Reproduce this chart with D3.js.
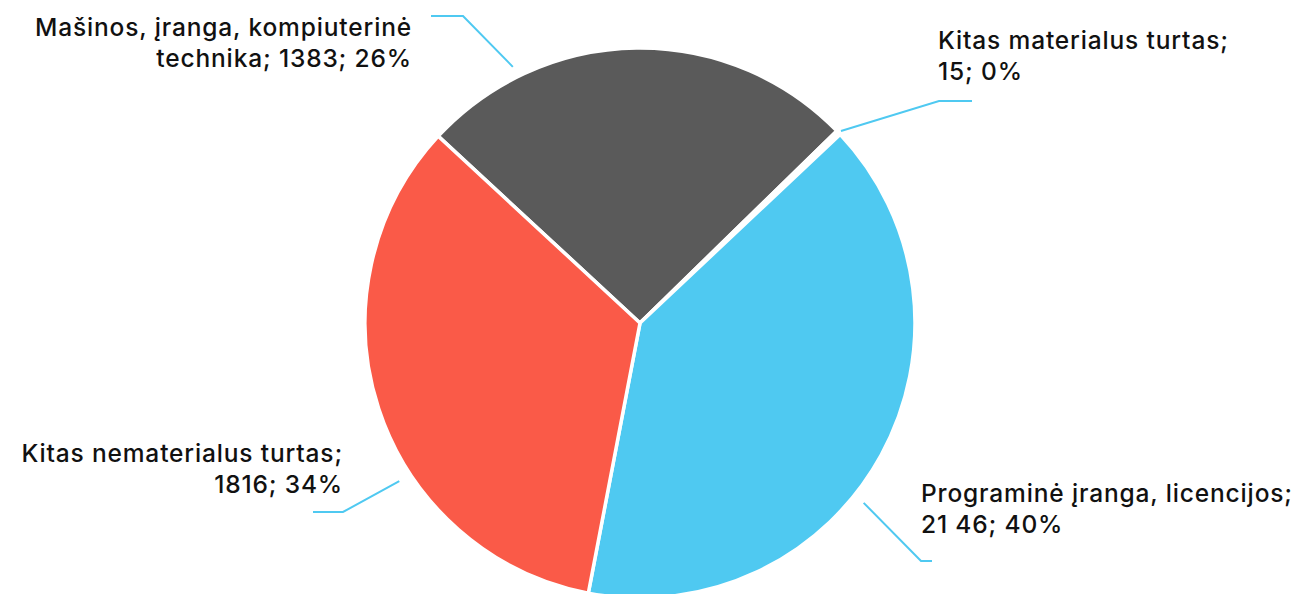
<!DOCTYPE html>
<html>
<head>
<meta charset="utf-8">
<script src="https://cdn.jsdelivr.net/npm/d3@7"></script>
<style>
  html, body { margin: 0; padding: 0; background: #ffffff; }
  svg { display: block; }
</style>
</head>
<body>
<svg id="chart" width="1299" height="594"></svg>
<script>
// ---- data ----
const categories = [
  "Mašinos, įranga, kompiuterinė technika",
  "Kitas materialus turtas",
  "Programinė įranga, licencijos",
  "Kitas nematerialus turtas"
];
const values = [1383, 15, 2146, 1816];
const valueLabels = ["1383", "15", "21 46", "1816"];
const percentLabels = ["26%", "0%", "40%", "34%"];
const colors = ["#5a5a5a", "#ffffff", "#4fc9f1", "#fa5a48"];

// label text lines (as displayed)
const labelLines = [
  ["Mašinos, įranga, kompiuterinė", "technika; 1383; 26%"],
  ["Kitas materialus turtas;", "15; 0%"],
  ["Programinė įranga, licencijos;", "21 46; 40%"],
  ["Kitas nematerialus turtas;", "1816; 34%"]
];

// ---- layout (positions, not data) ----
const W = 1299, H = 594;
const cx = 640, cy = 323, R = 275;
const startDeg = -47.2;
const labelLayout = [
  { x: 412, y: 36, anchor: "end",   lineAngle: -26.4, lineR: 286, elbow: [463, 16], end: [431, 16] },
  { x: 938, y: 49, anchor: "start", lineAngle: 46.3,  lineR: 278, elbow: [939, 101], end: [972, 101] },
  { x: 921, y: 502, anchor: "start", lineAngle: 128.8, lineR: 287, elbow: [921, 561], end: [932, 561] },
  { x: 343, y: 462, anchor: "end",  lineAngle: -123.3, lineR: 288, elbow: [343, 512], end: [313, 512] }
];
const lineGap = 31;

const svg = d3.select("#chart");
const rad = d => d * Math.PI / 180;

const pie = d3.pie().sort(null).value(d => d)
  .startAngle(rad(startDeg)).endAngle(rad(startDeg + 360));
const arcs = pie(values);
const arc = d3.arc().innerRadius(0).outerRadius(R);

const g = svg.append("g").attr("transform", `translate(${cx},${cy})`);
g.selectAll("path.slice").data(arcs).enter().append("path")
  .attr("class", "slice")
  .attr("d", arc)
  .attr("fill", (d, i) => colors[i])
  .attr("stroke", "#ffffff")
  .attr("stroke-width", 3.5)
  .attr("stroke-linejoin", "miter");

// leader lines
const lines = svg.append("g");
labelLayout.forEach((L, i) => {
  const a = rad(L.lineAngle);
  const p0 = [cx + L.lineR * Math.sin(a), cy - L.lineR * Math.cos(a)];
  lines.append("polyline")
    .attr("points", [p0, L.elbow, L.end].map(p => p.join(",")).join(" "))
    .attr("fill", "none")
    .attr("stroke", "#4fc9f1")
    .attr("stroke-width", 2);
});

// labels
const fontFamily = "Inter, 'Noto Sans', sans-serif";
const fontSize = 24.5;

const labels = svg.append("g");
labelLayout.forEach((L, i) => {
  const t = labels.append("text")
    .attr("x", L.x).attr("y", L.y)
    .attr("text-anchor", L.anchor)
    .attr("font-family", fontFamily)
    .attr("font-weight", 500)
    .attr("font-size", fontSize)
    .attr("letter-spacing", 0.85)
    .attr("fill", "#111111");
  labelLines[i].forEach((s, k) => {
    t.append("tspan").attr("x", L.x).attr("y", L.y + k * lineGap).text(s);
  });
});
</script>
</body>
</html>
